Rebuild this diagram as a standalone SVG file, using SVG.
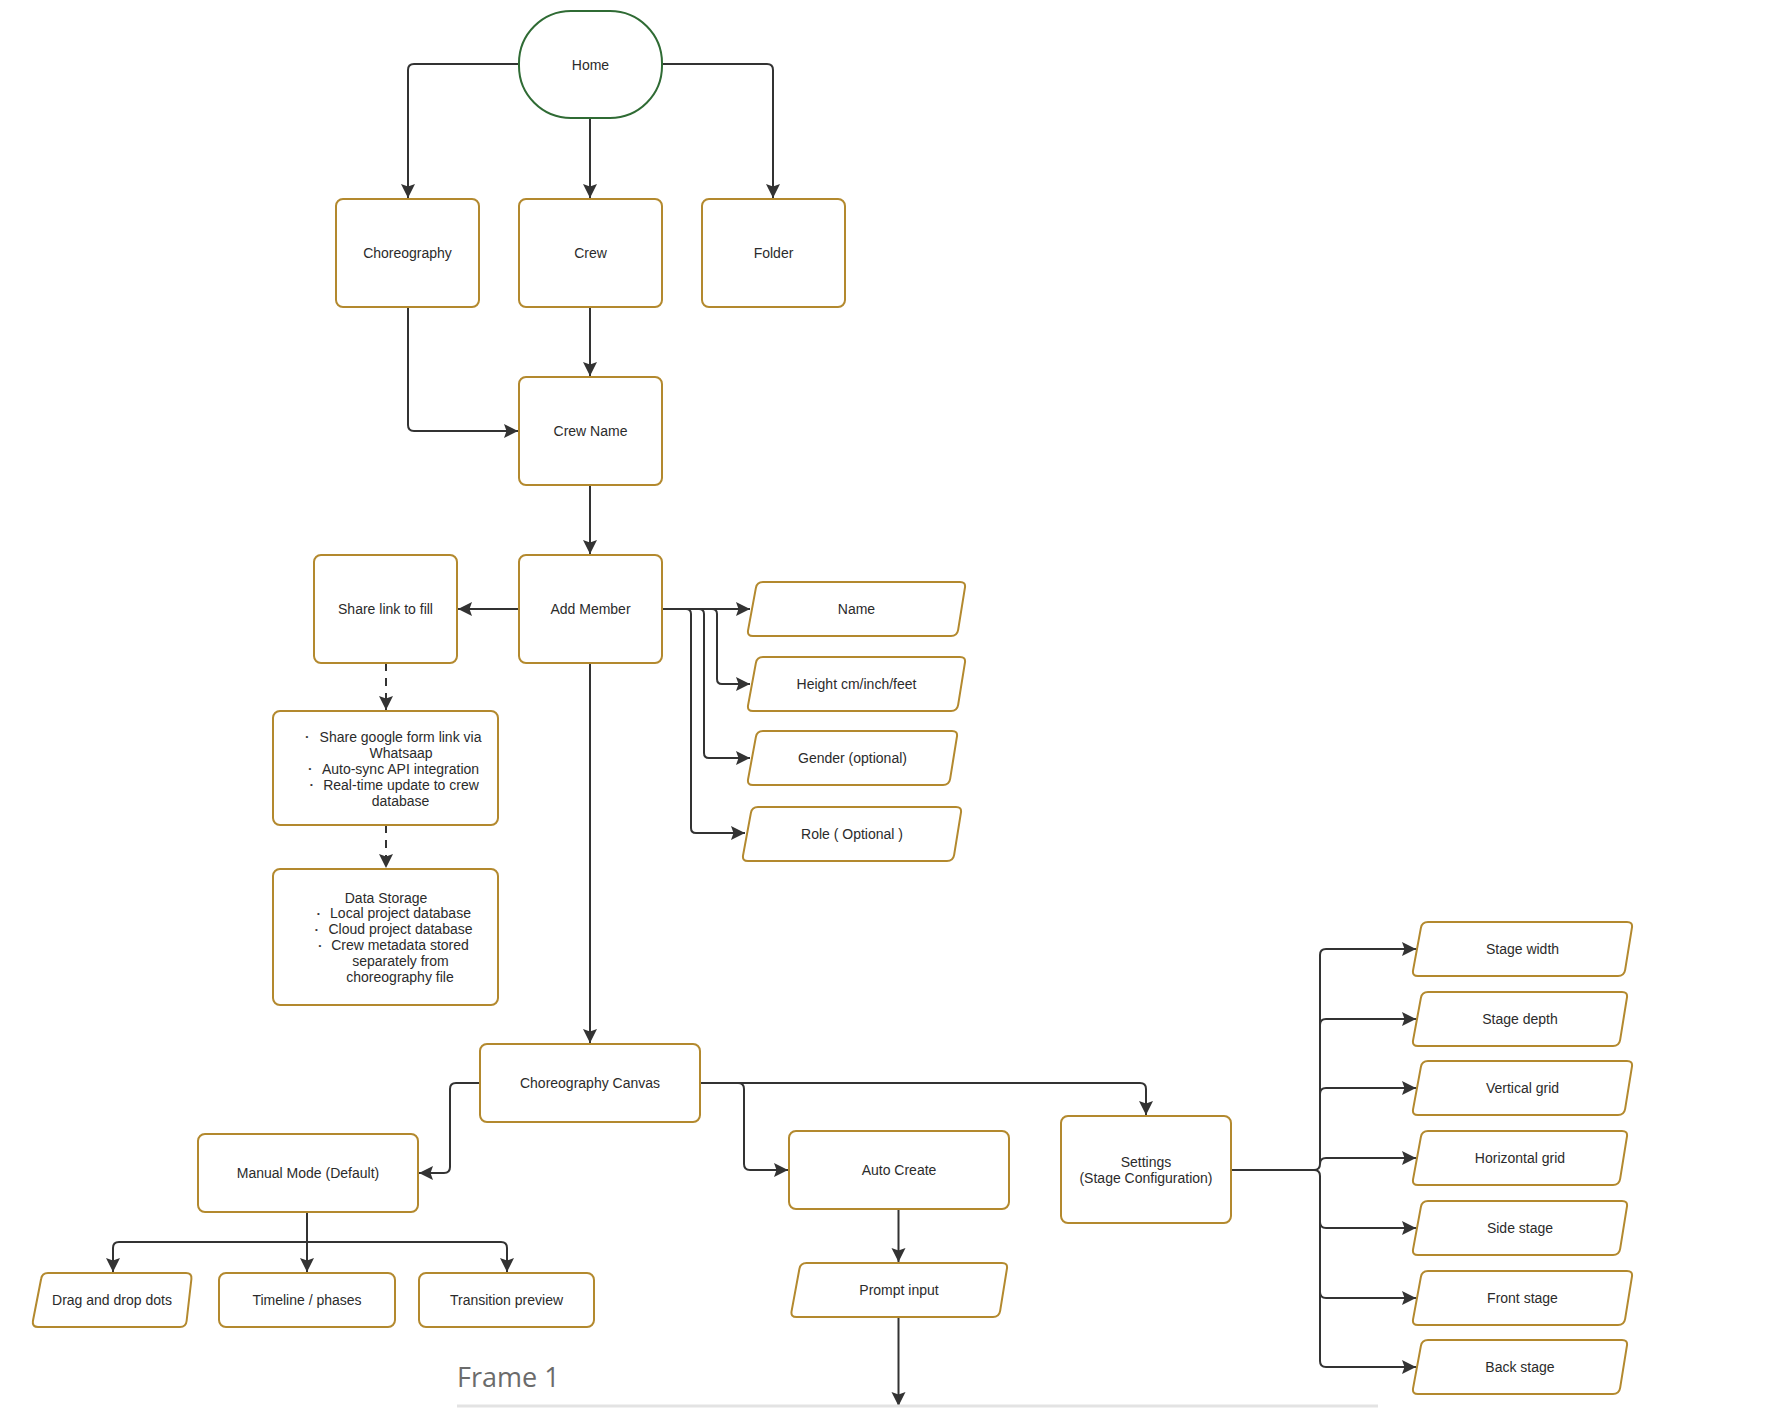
<svg xmlns="http://www.w3.org/2000/svg" width="1766" height="1408" viewBox="0 0 1766 1408">
<defs>
<style>
.n{fill:#fff;stroke:#B3892E;stroke-width:2}
.home{fill:#fff;stroke:#2F6B34;stroke-width:2}
.t{font-family:"Liberation Sans",Arial,sans-serif;font-size:14px;fill:#2b2b2b;text-anchor:middle}
.b{font-family:"Liberation Sans",Arial,sans-serif;font-size:8px;fill:#333;text-anchor:middle}
.c{fill:none;stroke:#333;stroke-width:2;marker-end:url(#ah)}
.cn{fill:none;stroke:#333;stroke-width:2}
.d{fill:none;stroke:#333;stroke-width:2;stroke-dasharray:8 7;marker-end:url(#ah)}
</style>
<marker id="ah" markerUnits="userSpaceOnUse" markerWidth="16" markerHeight="16" viewBox="0 0 16 16" refX="14" refY="8" orient="auto">
<path d="M0,1 L14,8 L0,15 L2.5,8 Z" fill="#333"/>
</marker>
</defs>
<rect width="1766" height="1408" fill="#fff"/>

<g id="connectors">
<path class="c" d="M519,64 L414,64 Q408,64 408,70 L408,198"/>
<path class="c" d="M590,118 L590,198"/>
<path class="c" d="M662,64 L767,64 Q773,64 773,70 L773,198"/>
<path class="c" d="M590,307 L590,376"/>
<path class="c" d="M408,307 L408,425 Q408,431 414,431 L518,431"/>
<path class="c" d="M590,485 L590,554"/>
<path class="c" d="M519,609 L458,609"/>
<path class="c" d="M662,609 L750,609"/>
<path class="c" d="M662,609 L712,609 Q717,609 717,614 L717,679 Q717,684 722,684 L750,684"/>
<path class="c" d="M662,609 L699,609 Q704,609 704,614 L704,753 Q704,758 709,758 L750,758"/>
<path class="c" d="M662,609 L686,609 Q691,609 691,614 L691,828 Q691,833 696,833 L745,833"/>
<path class="d" d="M386,663 L386,710"/>
<path class="d" d="M386,825 L386,868"/>
<path class="c" d="M590,663 L590,1043"/>
<path class="c" d="M480,1083 L456,1083 Q450,1083 450,1089 L450,1167 Q450,1173 444,1173 L419,1173"/>
<path class="c" d="M700,1083 L738,1083 Q744,1083 744,1089 L744,1164 Q744,1170 750,1170 L788,1170"/>
<path class="c" d="M700,1083 L1140,1083 Q1146,1083 1146,1089 L1146,1115"/>
<path class="cn" d="M307,1212 L307,1242"/>
<path class="c" d="M307,1242 L119,1242 Q113,1242 113,1248 L113,1272"/>
<path class="c" d="M307,1242 L307,1272"/>
<path class="c" d="M307,1242 L501,1242 Q507,1242 507,1248 L507,1272"/>
<path class="c" d="M898.5,1209 L898.5,1262"/>
<path class="c" d="M898.5,1317 L898.5,1406"/>
<path class="cn" d="M1231,1170 L1314,1170"/>
<path class="c" d="M1314,1170 Q1320,1170 1320,1164 L1320,955 Q1320,949 1326,949 L1416,949"/>
<path class="c" d="M1320,1025 Q1320,1019 1326,1019 L1416,1019"/>
<path class="c" d="M1320,1094 Q1320,1088 1326,1088 L1416,1088"/>
<path class="c" d="M1320,1164 Q1320,1158 1326,1158 L1416,1158"/>
<path class="c" d="M1314,1170 Q1320,1170 1320,1176 L1320,1361 Q1320,1367 1326,1367 L1416,1367"/>
<path class="c" d="M1320,1222 Q1320,1228 1326,1228 L1416,1228"/>
<path class="c" d="M1320,1292 Q1320,1298 1326,1298 L1416,1298"/>
</g>

<g id="home"><rect class="home" x="519" y="11" width="143" height="107" rx="52" ry="52"/><text class="t" x="590.5" y="70">Home</text></g>
<g id="choreography"><rect class="n" x="336" y="199" width="143" height="108" rx="7"/><text class="t" x="407.5" y="258">Choreography</text></g>
<g id="crew"><rect class="n" x="519" y="199" width="143" height="108" rx="7"/><text class="t" x="590.5" y="258">Crew</text></g>
<g id="folder"><rect class="n" x="702" y="199" width="143" height="108" rx="7"/><text class="t" x="773.5" y="258">Folder</text></g>
<g id="crew-name"><rect class="n" x="519" y="377" width="143" height="108" rx="7"/><text class="t" x="590.5" y="436">Crew Name</text></g>
<g id="share-link"><rect class="n" x="314" y="555" width="143" height="108" rx="7"/><text class="t" x="385.5" y="614">Share link to fill</text></g>
<g id="add-member"><rect class="n" x="519" y="555" width="143" height="108" rx="7"/><text class="t" x="590.5" y="614">Add Member</text></g>

<g id="name"><path class="n" d="M763,582 L960,582 Q966,582 964.9,587.9 L958.1,630.1 Q957,636 951,636 L753,636 Q747,636 748.1,630.1 L755.9,587.9 Q757,582 763,582 Z"/><text class="t" x="856.5" y="614">Name</text></g>
<g id="height"><path class="n" d="M763,657 L960,657 Q966,657 964.9,662.9 L958.1,705.1 Q957,711 951,711 L753,711 Q747,711 748.1,705.1 L755.9,662.9 Q757,657 763,657 Z"/><text class="t" x="856.5" y="689">Height cm/inch/feet</text></g>
<g id="gender"><path class="n" d="M763,731 L952,731 Q958,731 956.9,736.9 L950.1,779.1 Q949,785 943,785 L753,785 Q747,785 748.1,779.1 L755.9,736.9 Q757,731 763,731 Z"/><text class="t" x="852.5" y="763">Gender (optional)</text></g>
<g id="role"><path class="n" d="M758,807 L956,807 Q962,807 960.9,812.9 L954.1,855.1 Q953,861 947,861 L748,861 Q742,861 743.1,855.1 L750.9,812.9 Q752,807 758,807 Z"/><text class="t" x="852" y="839">Role ( Optional )</text></g>

<g id="share-details"><rect class="n" x="273" y="711" width="225" height="114" rx="7"/>
<text class="b" x="307" y="739">•</text><text class="t" x="400.5" y="741.5">Share google form link via</text>
<text class="t" x="401" y="757.5">Whatsaap</text>
<text class="b" x="310" y="771">•</text><text class="t" x="400.5" y="773.5">Auto-sync API integration</text>
<text class="b" x="311.5" y="787">•</text><text class="t" x="401" y="789.5">Real-time update to crew</text>
<text class="t" x="400.5" y="805.5">database</text>
</g>
<g id="data-storage"><rect class="n" x="273" y="869" width="225" height="136" rx="7"/>
<text class="t" x="386" y="903">Data Storage</text>
<text class="b" x="318.5" y="916">•</text><text class="t" x="400.5" y="918">Local project database</text>
<text class="b" x="316.5" y="932">•</text><text class="t" x="400.5" y="934">Cloud project database</text>
<text class="b" x="320" y="948">•</text><text class="t" x="400" y="950">Crew metadata stored</text>
<text class="t" x="400.5" y="966">separately from</text>
<text class="t" x="400" y="982">choreography file</text>
</g>

<g id="canvas"><rect class="n" x="480" y="1044" width="220" height="78" rx="7"/><text class="t" x="590" y="1088">Choreography Canvas</text></g>
<g id="manual-mode"><rect class="n" x="198" y="1134" width="220" height="78" rx="7"/><text class="t" x="308" y="1178">Manual Mode (Default)</text></g>
<g id="auto-create"><rect class="n" x="789" y="1131" width="220" height="78" rx="7"/><text class="t" x="899" y="1175">Auto Create</text></g>
<g id="settings"><rect class="n" x="1061" y="1116" width="170" height="107" rx="7"/><text class="t" x="1146" y="1167">Settings</text><text class="t" x="1146" y="1183">(Stage Configuration)</text></g>

<g id="drag-drop"><path class="n" d="M48,1273 L186,1273 Q192,1273 191.4,1279 L186.6,1321 Q186,1327 180,1327 L38,1327 Q32,1327 32.9,1321 L41.1,1279 Q42,1273 48,1273 Z"/><text class="t" x="112" y="1305">Drag and drop dots</text></g>
<g id="timeline"><rect class="n" x="219" y="1273" width="176" height="54" rx="7"/><text class="t" x="307" y="1305">Timeline / phases</text></g>
<g id="transition"><rect class="n" x="419" y="1273" width="175" height="54" rx="7"/><text class="t" x="506.5" y="1305">Transition preview</text></g>
<g id="prompt"><path class="n" d="M806.5,1263 L1002,1263 Q1008,1263 1006.9,1268.9 L1000.1,1311.1 Q999,1317 993,1317 L796.5,1317 Q790.5,1317 791.6,1311.1 L799.4,1268.9 Q800.5,1263 806.5,1263 Z"/><text class="t" x="899" y="1295">Prompt input</text></g>

<g id="stage-width"><path class="n" d="M1428,922 L1627,922 Q1633,922 1631.9,927.9 L1625.1,970.1 Q1624,976 1618,976 L1418,976 Q1412,976 1413.1,970.1 L1420.9,927.9 Q1422,922 1428,922 Z"/><text class="t" x="1522.5" y="954">Stage width</text></g>
<g id="stage-depth"><path class="n" d="M1428,992 L1622,992 Q1628,992 1626.9,997.9 L1620.1,1040.1 Q1619,1046 1613,1046 L1418,1046 Q1412,1046 1413.1,1040.1 L1420.9,997.9 Q1422,992 1428,992 Z"/><text class="t" x="1520" y="1024">Stage depth</text></g>
<g id="vertical-grid"><path class="n" d="M1428,1061 L1627,1061 Q1633,1061 1631.9,1066.9 L1625.1,1109.1 Q1624,1115 1618,1115 L1418,1115 Q1412,1115 1413.1,1109.1 L1420.9,1066.9 Q1422,1061 1428,1061 Z"/><text class="t" x="1522.5" y="1093">Vertical grid</text></g>
<g id="horizontal-grid"><path class="n" d="M1428,1131 L1622,1131 Q1628,1131 1626.9,1136.9 L1620.1,1179.1 Q1619,1185 1613,1185 L1418,1185 Q1412,1185 1413.1,1179.1 L1420.9,1136.9 Q1422,1131 1428,1131 Z"/><text class="t" x="1520" y="1163">Horizontal grid</text></g>
<g id="side-stage"><path class="n" d="M1428,1201 L1622,1201 Q1628,1201 1626.9,1206.9 L1620.1,1249.1 Q1619,1255 1613,1255 L1418,1255 Q1412,1255 1413.1,1249.1 L1420.9,1206.9 Q1422,1201 1428,1201 Z"/><text class="t" x="1520" y="1233">Side stage</text></g>
<g id="front-stage"><path class="n" d="M1428,1271 L1627,1271 Q1633,1271 1631.9,1276.9 L1625.1,1319.1 Q1624,1325 1618,1325 L1418,1325 Q1412,1325 1413.1,1319.1 L1420.9,1276.9 Q1422,1271 1428,1271 Z"/><text class="t" x="1522.5" y="1303">Front stage</text></g>
<g id="back-stage"><path class="n" d="M1428,1340 L1622,1340 Q1628,1340 1626.9,1345.9 L1620.1,1388.1 Q1619,1394 1613,1394 L1418,1394 Q1412,1394 1413.1,1388.1 L1420.9,1345.9 Q1422,1340 1428,1340 Z"/><text class="t" x="1520" y="1372">Back stage</text></g>

<g id="frame-label">
<text x="457" y="1387" font-family="'Open Sans',sans-serif" font-size="27" fill="#6b6b6b">Frame 1</text>
<line x1="457" y1="1406" x2="1378" y2="1406" stroke="#e3e3e3" stroke-width="3"/>
</g>
</svg>
